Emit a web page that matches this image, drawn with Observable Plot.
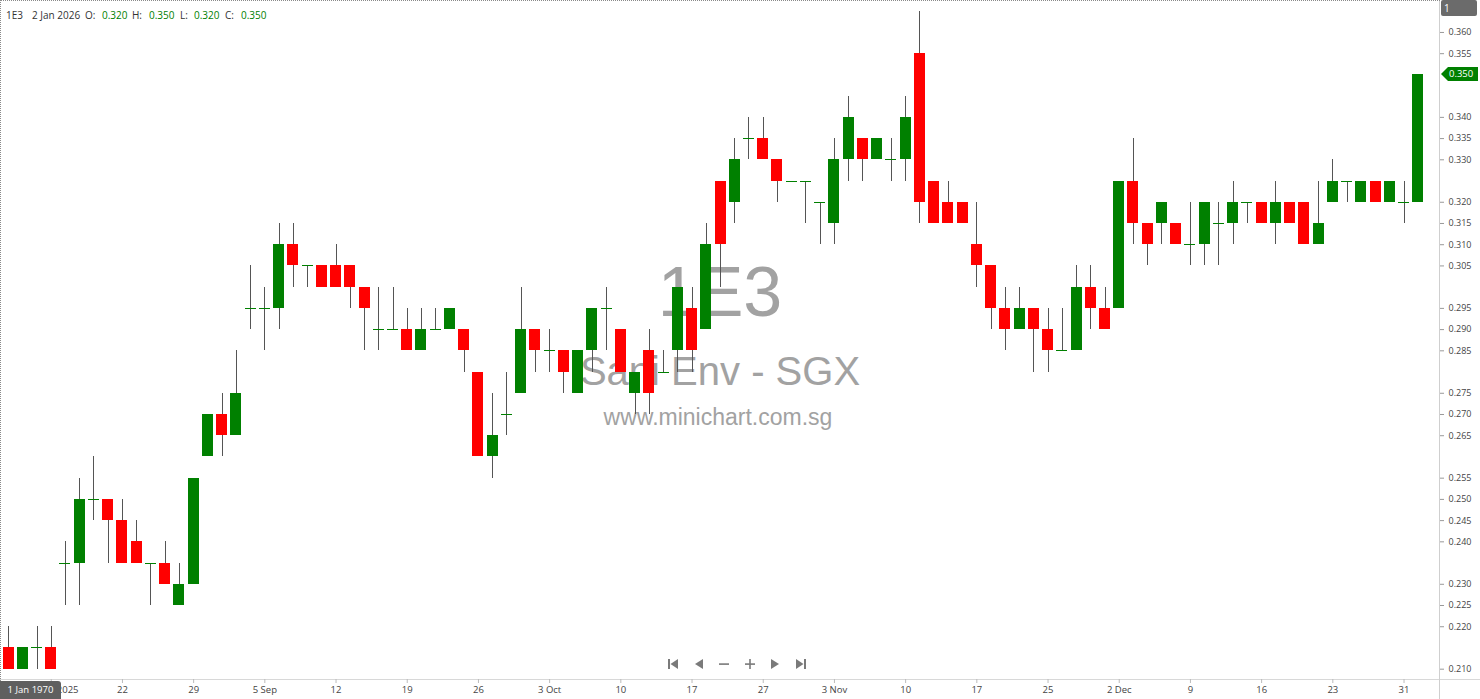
<!DOCTYPE html>
<html><head><meta charset="utf-8">
<script src="https://cdn.jsdelivr.net/npm/d3@7"></script>
<script src="https://cdn.jsdelivr.net/npm/@observablehq/plot@0.6"></script>
<style>
html,body{margin:0;padding:0;background:#fff;}
#wrap{position:relative;width:1480px;height:699px;overflow:hidden;font-family:"Open Sans",sans-serif;}
#chart svg{display:block;}
.hdr{position:absolute;top:9px;font-size:10px;line-height:12px;color:#333;white-space:nowrap;}
.hdr.v{color:#008000;}
.ov{position:absolute;}
</style></head>
<body>
<div id="wrap">
  <div id="chart"></div>
</div>
<script>
// ---- data ----
const symbol = "1E3";
const dates = [
  "2025-08-12","2025-08-13","2025-08-14","2025-08-15","2025-08-18","2025-08-19","2025-08-20","2025-08-21","2025-08-22",
  "2025-08-25","2025-08-26","2025-08-27","2025-08-28","2025-08-29",
  "2025-09-01","2025-09-02","2025-09-03","2025-09-04","2025-09-05","2025-09-08","2025-09-09","2025-09-10","2025-09-11","2025-09-12",
  "2025-09-15","2025-09-16","2025-09-17","2025-09-18","2025-09-19","2025-09-22","2025-09-23","2025-09-24","2025-09-25","2025-09-26",
  "2025-09-29","2025-09-30","2025-10-01","2025-10-02","2025-10-03","2025-10-06","2025-10-07","2025-10-08","2025-10-09","2025-10-10",
  "2025-10-13","2025-10-14","2025-10-15","2025-10-16","2025-10-17","2025-10-21","2025-10-22","2025-10-23","2025-10-24",
  "2025-10-27","2025-10-28","2025-10-29","2025-10-30","2025-10-31","2025-11-03","2025-11-04","2025-11-05","2025-11-06","2025-11-07",
  "2025-11-10","2025-11-11","2025-11-12","2025-11-13","2025-11-14","2025-11-17","2025-11-18","2025-11-19","2025-11-20","2025-11-21",
  "2025-11-25","2025-11-26","2025-11-27","2025-11-28","2025-12-01","2025-12-02","2025-12-03","2025-12-04","2025-12-05",
  "2025-12-08","2025-12-09","2025-12-10","2025-12-11","2025-12-12","2025-12-15","2025-12-16","2025-12-17","2025-12-18","2025-12-19",
  "2025-12-22","2025-12-23","2025-12-24","2025-12-26","2025-12-29","2025-12-30","2025-12-31","2026-01-02"
];
const open = [
  0.215,0.210,0.215,0.215,0.235,0.235,0.250,0.250,0.245,
  0.240,0.235,0.235,0.225,0.230,
  0.260,0.270,0.265,0.295,0.295,0.295,0.310,0.305,0.305,0.305,
  0.305,0.300,0.290,0.290,0.290,0.285,0.290,0.290,0.290,0.280,
  0.260,0.270,0.275,0.290,0.285,0.285,0.275,0.285,0.295,0.290,
  0.275,0.285,0.280,0.285,0.295,0.290,0.325,0.320,0.335,
  0.335,0.330,0.325,0.325,0.320,0.315,0.330,0.335,0.330,0.330,
  0.330,0.355,0.325,0.320,0.320,0.310,0.305,0.295,0.290,0.295,
  0.290,0.285,0.285,0.300,0.295,0.295,0.325,0.315,0.315,
  0.315,0.310,0.310,0.315,0.315,0.320,0.320,0.315,0.320,0.320,
  0.310,0.320,0.325,0.320,0.325,0.320,0.320,0.320
];
const high = [
  0.220,0.215,0.220,0.220,0.240,0.255,0.260,0.250,0.250,
  0.245,0.235,0.240,0.235,0.255,
  0.270,0.275,0.285,0.305,0.300,0.315,0.315,0.305,0.305,0.310,
  0.305,0.300,0.300,0.300,0.295,0.295,0.295,0.295,0.290,0.280,
  0.275,0.280,0.300,0.290,0.290,0.285,0.285,0.295,0.300,0.290,
  0.280,0.290,0.285,0.300,0.300,0.315,0.325,0.335,0.340,
  0.340,0.330,0.325,0.325,0.320,0.335,0.345,0.335,0.335,0.335,
  0.345,0.365,0.325,0.325,0.320,0.320,0.305,0.300,0.300,0.295,
  0.295,0.295,0.305,0.305,0.300,0.325,0.335,0.315,0.320,
  0.315,0.320,0.320,0.320,0.325,0.320,0.320,0.325,0.320,0.320,
  0.325,0.330,0.325,0.325,0.325,0.325,0.325,0.350
];
const low = [
  0.210,0.210,0.210,0.210,0.225,0.225,0.245,0.235,0.235,
  0.235,0.225,0.230,0.225,0.230,
  0.260,0.260,0.265,0.290,0.285,0.290,0.300,0.300,0.300,0.300,
  0.295,0.285,0.285,0.290,0.285,0.285,0.290,0.290,0.280,0.260,
  0.255,0.265,0.275,0.280,0.280,0.275,0.275,0.280,0.285,0.280,
  0.270,0.270,0.280,0.280,0.280,0.290,0.300,0.315,0.330,
  0.330,0.320,0.325,0.315,0.310,0.310,0.325,0.325,0.330,0.325,
  0.325,0.315,0.315,0.315,0.315,0.300,0.290,0.285,0.290,0.280,
  0.280,0.285,0.285,0.290,0.290,0.295,0.310,0.305,0.310,
  0.310,0.305,0.305,0.305,0.310,0.315,0.315,0.310,0.315,0.310,
  0.310,0.320,0.320,0.320,0.320,0.320,0.315,0.320
];
const close = [
  0.210,0.215,0.215,0.210,0.235,0.250,0.250,0.245,0.235,
  0.235,0.235,0.230,0.230,0.255,
  0.270,0.265,0.275,0.295,0.295,0.310,0.305,0.305,0.300,0.300,
  0.300,0.295,0.290,0.290,0.285,0.290,0.290,0.295,0.285,0.260,
  0.265,0.270,0.290,0.285,0.285,0.280,0.285,0.295,0.295,0.280,
  0.280,0.275,0.280,0.300,0.285,0.310,0.310,0.330,0.335,
  0.330,0.325,0.325,0.325,0.320,0.330,0.340,0.330,0.335,0.330,
  0.340,0.320,0.315,0.315,0.315,0.305,0.295,0.290,0.295,0.290,
  0.285,0.285,0.300,0.295,0.290,0.325,0.315,0.310,0.320,
  0.310,0.310,0.320,0.315,0.320,0.320,0.315,0.320,0.315,0.310,
  0.315,0.325,0.325,0.325,0.320,0.325,0.320,0.350
];
const yTicks = [0.210,0.220,0.225,0.230,0.240,0.245,0.250,0.255,0.265,0.270,0.275,0.285,0.290,0.295,
                0.305,0.310,0.315,0.320,0.330,0.335,0.340,0.355,0.360];
const xTickDates = ["2025-08-15","2025-08-22","2025-08-29","2025-09-05","2025-09-12","2025-09-19","2025-09-26",
  "2025-10-03","2025-10-10","2025-10-17","2025-10-27","2025-11-03","2025-11-10","2025-11-17","2025-11-25",
  "2025-12-02","2025-12-09","2025-12-16","2025-12-23","2025-12-31"];
const xTickLabels = ["15 Aug 2025","22","29","5 Sep","12","19","26","3 Oct","10","17","27","3 Nov","10","17","25",
  "2 Dec","9","16","23","31"];
const watermark = ["1E3", "Sani Env - SGX", "www.minichart.com.sg"];
const yDomain = [0.20757, 0.36753];

// ---- build ----
const data = dates.map((d, i) => ({date: d, open: open[i], high: high[i], low: low[i], close: close[i]}));
const ups = data.filter(d => d.close > d.open);
const downs = data.filter(d => d.close < d.open);
const dojis = data.filter(d => d.close === d.open);
const labelOf = new Map(xTickDates.map((d, i) => [d, xTickLabels[i]]));
const wmFont = "'Liberation Sans', Arial, sans-serif";
const wmColor = "#a2a2a2";

const chart = Plot.plot({
  width: 1480, height: 699,
  marginLeft: 0, marginRight: 41, marginTop: 0, marginBottom: 20,
  style: {fontFamily: "'Open Sans', sans-serif", fontSize: "9px", background: "transparent", color: "#444", overflow: "visible"},
  x: {type: "band", domain: dates, range: [0.9, 1424.9], paddingInner: 0.23, paddingOuter: 0.115, round: false, axis: null},
  y: {domain: yDomain, axis: null},
  marks: [
    Plot.text([watermark[0]], {frameAnchor: "middle", dy: -46, fontSize: 70, fontFamily: wmFont, fill: wmColor}),
    Plot.text([watermark[1]], {frameAnchor: "middle", dy: 32, fontSize: 40, fontFamily: wmFont, fill: wmColor}),
    Plot.text([watermark[2]], {frameAnchor: "middle", dy: 78, dx: -2, fontSize: 23, fontFamily: wmFont, fill: wmColor}),
    Plot.frame({anchor: "bottom", stroke: "#d8d8d8"}),
    Plot.frame({anchor: "right", stroke: "#cfcfcf"}),
    Plot.ruleX(data, {x: "date", y1: "low", y2: "high", stroke: "#555", strokeWidth: 1, shapeRendering: "crispEdges"}),
    Plot.barY(ups, {x: "date", y1: "open", y2: "close", fill: "#008000", shapeRendering: "crispEdges"}),
    Plot.barY(downs, {x: "date", y1: "open", y2: "close", fill: "#ff0000", shapeRendering: "crispEdges"}),
    Plot.tickY(dojis, {x: "date", y: "close", stroke: "#008000", strokeWidth: 1, shapeRendering: "crispEdges"}),
    Plot.axisY({anchor: "right", ticks: yTicks, tickFormat: d3.format(".3f"), tickSize: 4, tickPadding: 5,
                stroke: "#999", fill: "#444", label: null, fontSize: 9}),
    Plot.axisX({ticks: xTickDates, tickFormat: d => labelOf.get(d), tickSize: 4, tickPadding: 3,
                stroke: "#bbb", fill: "#444", label: null, fontSize: 9.5})
  ]
});
const wrap = document.getElementById("wrap");
document.getElementById("chart").appendChild(chart);

function ov(html, css) {
  const d = document.createElement("div");
  d.className = "ov";
  d.style.cssText = css;
  d.innerHTML = html;
  wrap.appendChild(d);
  return d;
}
// dotted outer border (top & left)
ov("", "left:0;top:0;width:1440px;height:0;border-top:1px dotted #8a8a8a;");
ov("", "left:0;top:0;width:0;height:699px;border-left:1px dotted #8a8a8a;");
// extension of the axis lines into the scale area
ov("", "left:1439px;top:679px;width:41px;height:1px;background:#d8d8d8;");
ov("", "left:1439px;top:679px;width:1px;height:20px;background:#cfcfcf;");

// header
const last = data[data.length - 1];
const fmt = d3.format(".3f");
const dateFmt = d3.utcFormat("%-d %b %Y");
const hdrItems = [
  [symbol, 6, false], [dateFmt(new Date(last.date)), 32, false],
  ["O:", 85, false], [fmt(last.open), 102, true],
  ["H:", 132, false], [fmt(last.high), 149, true],
  ["L:", 180, false], [fmt(last.low), 194, true],
  ["C:", 225, false], [fmt(last.close), 241, true]
];
for (const [t, x, v] of hdrItems) {
  const s = document.createElement("div");
  s.className = "hdr" + (v ? " v" : "");
  s.style.left = x + "px";
  s.textContent = t;
  wrap.appendChild(s);
}

// "1" badge top-right
ov("1", "left:1441px;top:0;width:36px;height:16px;background:#6b6b6b;border-radius:2px;color:#fff;font-size:10px;line-height:16px;padding-left:3px;box-sizing:border-box;");

// last price badge
const yPos = chart.scale("y").apply(last.close);
ov(`<div style="position:absolute;left:0;top:0;width:0;height:0;border-top:7px solid transparent;border-bottom:7px solid transparent;border-right:7px solid #008000;"></div>
    <div style="position:absolute;left:7px;top:0;width:30px;height:14px;background:#008000;color:#fff;font-size:9.5px;line-height:14px;padding-left:1px;box-sizing:border-box;">${fmt(last.close)}</div>`,
   `left:1441px;top:${yPos - 7}px;width:38px;height:14px;`);

// crosshair date badge bottom-left
ov("1 Jan 1970", "left:0;top:681px;width:61px;height:18px;background:#5f5f5f;border-radius:0 3px 0 0;color:#fff;font-size:9.5px;line-height:18px;text-align:center;");

// navigation buttons
const g = "#7a7a7a";
ov(`<svg width="150" height="14" viewBox="0 0 150 14">
  <rect x="2" y="2" width="2" height="10" fill="${g}"/><path d="M12 2 L4.5 7 L12 12 Z" fill="${g}"/>
  <path d="M37 2 L29 7 L37 12 Z" fill="${g}"/>
  <rect x="53" y="6.3" width="10" height="1.6" fill="${g}"/>
  <rect x="79" y="6.3" width="10" height="1.6" fill="${g}"/><rect x="83.2" y="2" width="1.6" height="10" fill="${g}"/>
  <path d="M105 2 L113 7 L105 12 Z" fill="${g}"/>
  <path d="M130 2 L137.5 7 L130 12 Z" fill="${g}"/><rect x="138" y="2" width="2" height="10" fill="${g}"/>
</svg>`, "left:666px;top:654px;width:150px;height:14px;");
</script>
</body></html>
